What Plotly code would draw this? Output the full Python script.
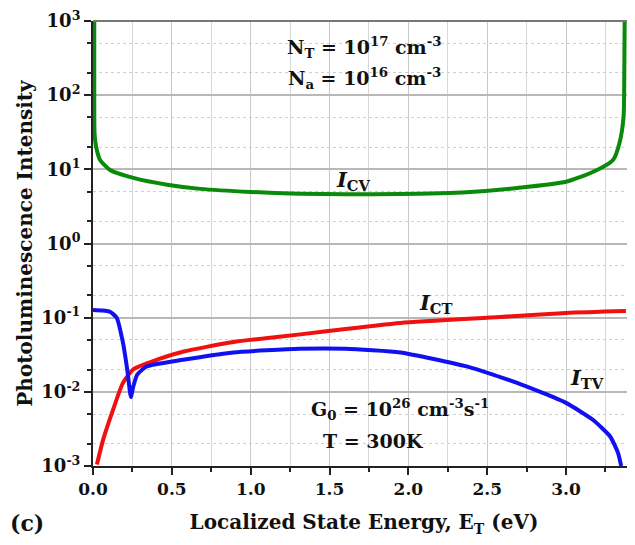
import plotly.graph_objects as go

# Localized state energy E_T (eV) and intensities
e_cv = [0.008, 0.008, 0.01, 0.02, 0.045, 0.108, 0.256, 0.47, 0.68, 1.0, 1.31, 1.6, 1.95, 2.2, 2.37, 2.69, 3.0, 3.17, 3.30, 3.34, 3.365, 3.37, 3.372]
i_cv = [1000, 100, 30, 20, 13.4, 9.8, 7.66, 6.2, 5.45, 4.95, 4.7, 4.62, 4.65, 4.75, 4.9, 5.6, 6.8, 9.2, 13.5, 23, 51, 240, 1000]

e_ct = [0.025, 0.064, 0.128, 0.19, 0.255, 0.36, 0.57, 0.89, 1.21, 1.44, 1.95, 2.58, 3.0, 3.38]
i_ct = [0.00105, 0.00225, 0.0058, 0.0132, 0.020, 0.025, 0.0347, 0.047, 0.056, 0.064, 0.085, 0.102, 0.116, 0.123]

e_tv = [0.0, 0.06, 0.108, 0.15, 0.19, 0.22, 0.24, 0.255, 0.28, 0.34, 0.57, 0.89, 1.31, 1.6, 1.95, 2.37, 2.69, 3.0, 3.17, 3.28, 3.33, 3.35]
i_tv = [0.127, 0.125, 0.12, 0.1, 0.046, 0.018, 0.0085, 0.0117, 0.017, 0.022, 0.027, 0.034, 0.038, 0.038, 0.034, 0.022, 0.0132, 0.0071, 0.0042, 0.0025, 0.0015, 0.001]

y_tickvals = [1e-3, 1e-2, 1e-1, 1e0, 1e1, 1e2, 1e3]
y_ticktext = ["10<sup>-3</sup>", "10<sup>-2</sup>", "10<sup>-1</sup>", "10<sup>0</sup>",
              "10<sup>1</sup>", "10<sup>2</sup>", "10<sup>3</sup>"]
x_tickvals = [0.0, 0.5, 1.0, 1.5, 2.0, 2.5, 3.0]
x_ticktext = ["0.0", "0.5", "1.0", "1.5", "2.0", "2.5", "3.0"]

FONT = "DejaVu Serif"

fig = go.Figure()
fig.add_trace(go.Scatter(x=e_cv, y=i_cv, mode="lines", line=dict(color="#0a8a0a", width=4, shape="spline", smoothing=0.6)))
fig.add_trace(go.Scatter(x=e_ct, y=i_ct, mode="lines", line=dict(color="#f01010", width=4, shape="spline", smoothing=0.6)))
fig.add_trace(go.Scatter(x=e_tv, y=i_tv, mode="lines", line=dict(color="#1010f0", width=4, shape="spline", smoothing=0.5)))

# page body has an 8px default margin, so shift the figure margins to compensate
fig.update_layout(
    width=635, height=545,
    margin=dict(l=85, r=8, t=13, b=87),
    plot_bgcolor="white", paper_bgcolor="white",
    showlegend=False,
    font=dict(family=FONT, color="#111111"),
    xaxis=dict(
        range=[0, 3.4376], tickvals=x_tickvals, ticktext=x_ticktext, automargin=False,
        tickfont=dict(family=FONT, size=17, weight="bold"), ticklabeloverflow="allow",
        ticks="outside", ticklen=7, tickwidth=1.5, tickcolor="#222",
        showline=True, linecolor="#222", linewidth=2,
        showgrid=True, gridcolor="#c8c8c8", gridwidth=1.2,
        minor=dict(dtick=0.25, tick0=0, ticks="outside", ticklen=4, tickcolor="#222",
                   showgrid=True, gridcolor="#d8d8d8", gridwidth=1),
        zeroline=False,
        title=dict(text="Localized State Energy, E<sub>T</sub> (eV)",
                   font=dict(family=FONT, size=20, weight="bold"), standoff=17),
    ),
    yaxis=dict(
        type="log", range=[-3, 3], tickvals=y_tickvals, ticktext=y_ticktext, automargin=False,
        tickfont=dict(family=FONT, size=18, weight="bold"), ticklabeloverflow="allow",
        ticks="outside", ticklen=7, tickwidth=1.5, tickcolor="#222",
        showline=True, linecolor="#222", linewidth=2,
        showgrid=True, gridcolor="#b8b8b8", gridwidth=1.5,
        minor=dict(ticks="outside", ticklen=4, tickcolor="#222",
                   showgrid=True, gridcolor="#d0d0d0", griddash="dot", gridwidth=1),
        zeroline=False,
        title=dict(text="Photoluminescence Intensity",
                   font=dict(family=FONT, size=20, weight="bold"), standoff=3),
    ),
)

fig.add_shape(type="line", xref="paper", yref="paper", x0=0, x1=1, y0=1, y1=1,
              line=dict(color="#777", width=2))

W, H, L, T = 542, 445, 93, 21
def px(xp, yp):
    return ((xp - L) / W, 1 - (yp - T) / H)

def ann(text, x, y, size=19, anchor="center"):
    fig.add_annotation(text=text, x=x, y=y, xref="paper", yref="paper",
                       showarrow=False, xanchor=anchor, yanchor="middle",
                       font=dict(family=FONT, size=size, color="#111", weight="bold"))

ann("N<sub>T</sub> = 10<sup>17</sup> cm<sup>-3</sup>", *px(364, 47), size=19)
ann("N<sub>a</sub> = 10<sup>16</sup> cm<sup>-3</sup>", *px(364, 78), size=19)
ann("<i>I</i><sub>CV</sub>", *px(353, 180), size=21)
ann("<i>I</i><sub>CT</sub>", *px(436, 303), size=21)
ann("<i>I</i><sub>TV</sub>", *px(587, 378), size=21)
ann("G<sub>0</sub> = 10<sup>26</sup> cm<sup>-3</sup>s<sup>-1</sup>", *px(400, 409), size=19)
ann("T = 300K", *px(373, 441), size=19)
ann("(c)", *px(8, 523), size=22, anchor="left")

fig.write_html("out.html")
